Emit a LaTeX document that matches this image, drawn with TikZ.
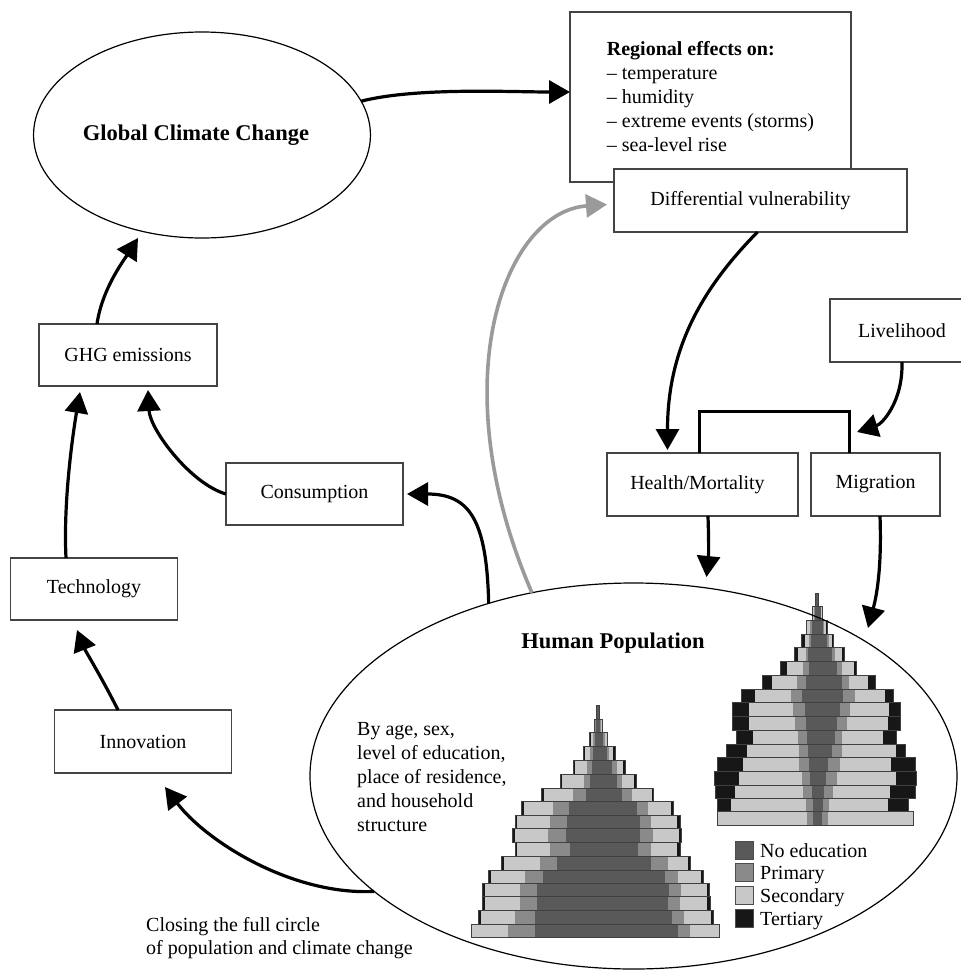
\documentclass[tikz,border=0pt]{standalone}
\usepackage{fontspec}
\setmainfont{Liberation Serif}
\usetikzlibrary{arrows.meta,shapes.geometric}

\definecolor{noed}{HTML}{595959}
\definecolor{prim}{HTML}{8A8A8A}
\definecolor{secd}{HTML}{C8C8C8}
\definecolor{tert}{HTML}{171717}
\definecolor{boxline}{HTML}{444444}
\definecolor{greyflow}{HTML}{9A9A9A}

\begin{document}
\begin{tikzpicture}[x=1pt,y=-1pt,
  txt/.style={font=\fontsize{20}{24}\selectfont, inner sep=0pt},
  ttl/.style={font=\fontsize{22.5}{27}\selectfont\bfseries},
  nbox/.style={draw=boxline, line width=1.2pt, fill=white, font=\fontsize{20}{24}\selectfont, inner sep=0pt, outer sep=0pt},
  oval/.style={ellipse, draw=black, line width=1.2pt, inner sep=0pt, outer sep=0pt},
  flow/.style={line width=3.2pt, -{Triangle[length=21pt,width=23pt]}},
  greyarrow/.style={flow, line width=3.6pt, color=greyflow},
  link/.style={line width=3pt, line join=miter},
  barline/.style={draw=black!75, line width=0.8pt},
  legsq/.style={draw=black!70, line width=0.8pt, minimum size=18pt, inner sep=0pt}
]
\useasboundingbox (0,0) rectangle (961,970);
\clip (0,0) rectangle (961,970);

% ---- population pyramid, broad base (row: top/bottom/outer-left/secondary/primary/none ... right side)
\begin{scope}[shift={(460pt,-680pt)}, x=0.3333pt, y=-0.3333pt]
  \foreach \pT/\pB/\pa/\pb/\pc/\pd/\pe/\pf/\pg/\ph in {
    733/773/33/33/145/225/655/690/778/778,
    690/733/55/62/165/225/635/672/752/760,
    650/690/68/75/180/232/625/660/742/750,
    610/650/68/75/180/232/628/662/740/748,
    570/610/85/92/195/250/615/655/722/730,
    530/570/125/132/240/290/572/625/683/690,
    488/530/165/172/270/330/535/572/652/660,
    445/488/158/165/265/318/540/578/658/665,
    405/445/165/172/270/322/540/572/650/660,
    365/405/185/192/280/328/532/565/632/640,
    325/365/245/252/340/378/485/515/575/580,
    283/325/300/305/372/390/470/485/522/530,
    240/283/340/346/380/395/455/470/488/495,
    200/240/370/376/390/400/440/448/460/465,
    158/200/388/392/398/405/430/436/440/443,
    118/158/402/404/406/409/420/423/426/428} {
    \fill[tert] (\pa,\pT) rectangle (\ph,\pB);
    \fill[secd] (\pb,\pT) rectangle (\pg,\pB);
    \fill[prim] (\pc,\pT) rectangle (\pf,\pB);
    \fill[noed] (\pd,\pT) rectangle (\pe,\pB);
    \draw[barline] (\pa,\pT) rectangle (\ph,\pB);
  }
  \fill[noed] (408,75) rectangle (418,118);
  \draw[barline] (408,75) rectangle (418,118);
\end{scope}

% ---- population pyramid, educated population
\begin{scope}[shift={(700pt,-590pt)}, x=0.3333pt, y=-0.3333pt]
  \foreach \pT/\pB/\pa/\pb/\pc/\pd/\pe/\pf/\pg/\ph in {
    665/705/52/52/320/340/365/385/640/640,
    625/665/52/92/318/338/368/388/565/625,
    585/625/45/105/310/335/372/400/570/645,
    545/585/42/118/305/330/378/410/588/650,
    502/545/52/130/298/328/385/420/572/645,
    462/502/80/140/298/325/395/425/588/615,
    420/462/110/158/295/320/405/425/548/590,
    380/420/98/148/285/318/412/440/565/600,
    338/380/98/148/278/315/420/450/568/600,
    298/338/125/165/272/305/428/465/555/580,
    255/298/188/215/290/318/425/448/505/525,
    213/255/240/260/310/328/410/425/462/470,
    172/213/283/295/318/325/395/405/425/432,
    132/172/305/315/328/333/380/388/395/400,
    90/132/318/322/330/336/368/372/378/382,
    50/90/338/340/343/345/362/364/366/368} {
    \fill[tert] (\pa,\pT) rectangle (\ph,\pB);
    \fill[secd] (\pb,\pT) rectangle (\pg,\pB);
    \fill[prim] (\pc,\pT) rectangle (\pf,\pB);
    \fill[noed] (\pd,\pT) rectangle (\pe,\pB);
    \draw[barline] (\pa,\pT) rectangle (\ph,\pB);
  }
  \fill[noed] (346,10) rectangle (356,50);
  \draw[barline] (346,10) rectangle (356,50);
\end{scope}

% ---- main nodes
\node[oval, ttl, minimum width=328pt, minimum height=206pt] (gcc) at (202,135) {Global Climate Change\hspace*{12pt}};
\node[oval, minimum width=647pt, minimum height=386pt] (pop) at (633.5,776) {};

\node[nbox, minimum width=281pt, minimum height=170pt, align=left] (reg) at (710.5,97)
  {\textbf{Regional effects on:}\\
   \textendash{} temperature\\
   \textendash{} humidity\\
   \textendash{} extreme events (storms)\\
   \textendash{} sea-level rise};
\node[nbox, minimum width=293pt, minimum height=63pt] (dv) at (760.5,200.5) {Differential vulnerability\hspace*{20pt}};
\node[nbox, minimum width=178pt, minimum height=62pt] (ghg) at (128,355) {GHG emissions};
\node[nbox, minimum width=177pt, minimum height=62pt] (cons) at (314.5,494) {Consumption};
\node[nbox, minimum width=167pt, minimum height=62pt] (tech) at (94,589) {Technology};
\node[nbox, minimum width=177pt, minimum height=63pt] (inn) at (143,741.5) {Innovation};
\node[nbox, minimum width=144pt, minimum height=63pt] (liv) at (902,330.5) {Livelihood};
\node[nbox, minimum width=191pt, minimum height=63pt] (hm) at (702.5,484.5) {Health/Mortality\hspace*{10pt}};
\node[nbox, minimum width=129pt, minimum height=63pt] (mig) at (875.5,484.5) {Migration};

% ---- texts
\node[ttl] (poptitle) at (613,643) {Human Population};
\node[txt, anchor=north west, align=left] (bytext) at (357,722)
  {By age, sex,\\level of education,\\place of residence,\\and household\\structure};
\node[txt, anchor=north west, align=left, font=\fontsize{20}{23.5}\selectfont] (closing) at (146,917)
  {Closing the full circle\\of population and climate change};

% ---- legend
\foreach \c/\lab [count=\i] in {noed/No education, prim/Primary, secd/Secondary, tert/Tertiary} {
  \node[legsq, fill=\c] (sq\i) at (744,{850+22.8*(\i-1)}) {};
  \node[txt, anchor=base west] (lab\i) at (760,{857+22.8*(\i-1)}) {\lab};
}

% ---- connectors
\draw[flow] (gcc.12) .. controls +(55,-14) and +(-60,0) .. ([yshift=5pt]reg.west);
\draw[flow] ([xshift=-31pt]ghg.north) .. controls +(5,-35) and +(-14,22) .. ([xshift=-64pt]gcc.south);
\draw[flow] (cons.west) .. controls +(-35,-10) and +(2,40) .. ([xshift=20pt,yshift=-4pt]ghg.south);
\draw[flow] ([xshift=-28pt]tech.north) .. controls +(-3,-60) and +(-6,35) .. ([xshift=-48pt,yshift=-6pt]ghg.south);
\draw[flow] ([xshift=-25pt]inn.north) .. controls +(-15,-30) and +(8,20) .. ([xshift=-17pt,yshift=-10pt]tech.south);
\draw[flow] (pop.204) .. controls +(-84,4) and +(40,53) .. ([xshift=22pt,yshift=-14pt]inn.south);
\draw[flow] (pop.130) .. controls +(-2,-83) and +(63,0) .. ([xshift=4pt]cons.east);
\draw[greyarrow] (pop.119) .. controls +(-92,-213) and +(-102,7) .. ([xshift=-7pt,yshift=-4pt]dv.west);
\draw[flow] ([xshift=-3pt]dv.south) .. controls +(-52,53) and +(0,-105) .. ([xshift=-35pt,yshift=3pt]hm.north);
\draw[flow] (liv.south) .. controls +(1,40) and +(25,-8) .. ([xshift=-18.5pt,yshift=21pt]mig.north);
\draw[link] ([xshift=-3.5pt]hm.north) -- ++(0,-42) -| ([xshift=-26.5pt]mig.north);
\draw[flow] ([xshift=5.5pt]hm.south) .. controls +(1,30) and +(2,-20) .. ([xshift=73pt,yshift=6pt]pop.north);
\draw[flow] ([xshift=4.5pt]mig.south) .. controls +(2,55) and +(8,-30) .. ([xshift=234.5pt,yshift=-45pt]pop.north);
\end{tikzpicture}
\end{document}
